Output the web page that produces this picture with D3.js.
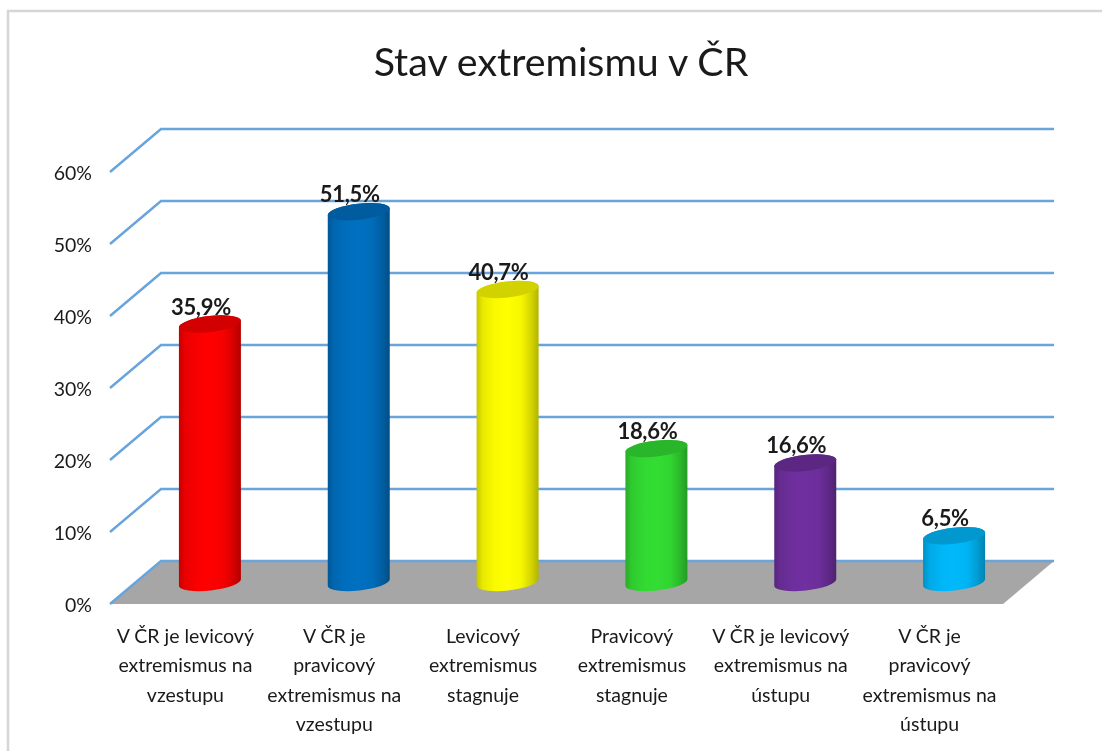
<!DOCTYPE html>
<html>
<head>
<meta charset="utf-8">
<script src="https://cdnjs.cloudflare.com/ajax/libs/d3/7.8.5/d3.min.js"></script>
<style>
html, body { margin: 0; padding: 0; background: #fff; }
svg { display: block; filter: blur(0.6px); }
text { font-family: Lato, "Open Sans", sans-serif; fill: #1a1a1a; }
</style>
</head>
<body>
<svg class="chart" width="1102" height="751"></svg>
<script>
const categories = [
	["V ČR je levicový", "extremismus na", "vzestupu"],
	["V ČR je", "pravicový", "extremismus na", "vzestupu"],
	["Levicový", "extremismus", "stagnuje"],
	["Pravicový", "extremismus", "stagnuje"],
	["V ČR je levicový", "extremismus na", "ústupu"],
	["V ČR je", "pravicový", "extremismus na", "ústupu"]
];
const values = [35.9, 51.5, 40.7, 18.6, 16.6, 6.5];
const valueLabels = ["35,9%", "51,5%", "40,7%", "18,6%", "16,6%", "6,5%"];
const yTicks = [0, 10, 20, 30, 40, 50, 60];
const barColors = ["#ff0000", "#0070c0", "#ffff00", "#33dd33", "#7030a0", "#00b9fb"];

const svg = d3.select(".chart");
const gridColor = "#69a5dc";

// front edge of the plot, the back wall sits dx/dy away from it
const depth = {dx: 51, dy: -43};
const xScale = d3.scaleBand().domain(d3.range(categories.length)).range([110, 1003]);
const yScale = d3.scaleLinear().domain([0, 60]).range([604, 172]);

// outer border of the pasted picture, open on the right
svg.append("path")
   .attr("d", "M8,751V11H1102")
   .attr("fill", "none")
   .attr("stroke", "#d6d6d6")
   .attr("stroke-width", 2.5);

svg.append("text")
   .attr("x", 561)
   .attr("y", 76)
   .attr("text-anchor", "middle")
   .attr("font-size", 39.4)
   .attr("fill", "#111")
   .text("Stav extremismu v ČR");

// floor
let x0 = xScale.range()[0], x1 = xScale.range()[1], y0 = yScale(0);
svg.append("path")
   .attr("d", `M${x0},${y0}L${x0 + depth.dx},${y0 + depth.dy}L${x1 + depth.dx},${y0 + depth.dy}L${x1},${y0}Z`)
   .attr("fill", "#a6a6a6");

// gridlines along the side wall and the back wall
yTicks.forEach(t => {
	let y = yScale(t);
	svg.append("path")
	   .attr("d", `M${x0},${y}L${x0 + depth.dx},${y + depth.dy}L${x1 + depth.dx},${y + depth.dy}`)
	   .attr("fill", "none")
	   .attr("stroke", gridColor)
	   .attr("stroke-width", 2.5);
	svg.append("text")
	   .attr("x", 92)
	   .attr("y", y + 8)
	   .attr("text-anchor", "end")
	   .attr("font-size", 19.5)
	   .text(t + "%");
});

// horizontal shading of each cylinder
let defs = svg.append("defs");
barColors.forEach((c, i) => {
	let grad = defs.append("linearGradient").attr("id", "bar" + i);
	let base = d3.color(c);
	let stops = [[0, base.darker(0.7)], [0.1, base.darker(0.25)], [0.3, base.darker(0.05)], [0.5, c],
		[0.72, base.darker(0.1)], [0.88, base.darker(0.5)], [1, base.darker(1)]];
	stops.forEach(s => {
		grad.append("stop").attr("offset", s[0]).attr("stop-color", s[1]);
	});
});

let bw = 62, ry = 8, tilt = 3.5;  // the ellipses lean up to the right
let rx = Math.hypot(bw / 2, tilt);
let angle = -Math.atan2(tilt, bw / 2) * 180 / Math.PI;

values.forEach((v, i) => {
	let cx = xScale(i) + xScale.bandwidth() / 2 + depth.dx / 2;
	let base = yScale(0) + depth.dy / 2;
	let top = yScale(v) + depth.dy / 2;
	let g = svg.append("g").attr("transform", `translate(${cx - bw / 2},0)`);
	let capArc = (sweep, x, y) => `A${rx},${ry} ${angle} 0 ${sweep} ${x},${y}`;

	g.append("path")
	 .attr("d", `M0,${top + tilt}L0,${base + tilt}` + capArc(0, bw, base - tilt) + `L${bw},${top - tilt}` + capArc(0, 0, top + tilt) + "Z")
	 .attr("fill", `url(#bar${i})`);
	g.append("path")
	 .attr("d", `M0,${top + tilt}` + capArc(1, bw, top - tilt) + capArc(1, 0, top + tilt) + "Z")
	 .attr("fill", d3.color(barColors[i]).darker(0.55));

	svg.append("text")
	   .attr("x", cx - 9)
	   .attr("y", top - 9.5)
	   .attr("text-anchor", "middle")
	   .attr("font-size", 22)
	   .attr("font-weight", "bold")
	   .attr("letter-spacing", -0.3)
	   .attr("fill", "#000")
	   .text(valueLabels[i]);

	// category labels under the floor
	let label = svg.append("text")
	   .attr("text-anchor", "middle")
	   .attr("font-size", 19.5);
	categories[i].forEach((line, k) => {
		label.append("tspan")
		     .attr("x", xScale(i) + xScale.bandwidth() / 2 + 1)
		     .attr("y", 643 + k * 29.4)
		     .text(line);
	});
});
</script>
</body>
</html>
